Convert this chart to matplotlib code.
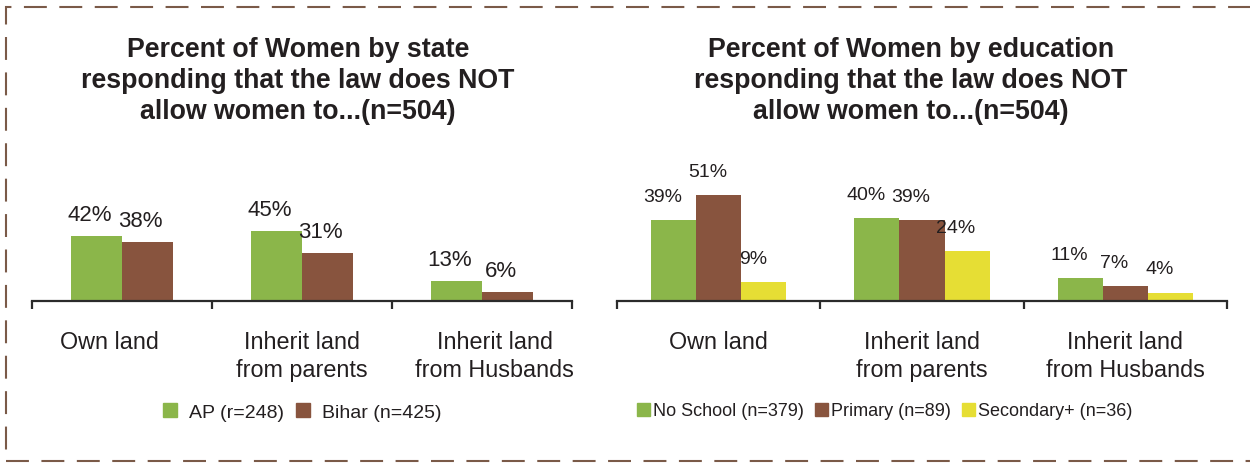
import matplotlib
matplotlib.use("Agg")
import numpy as np
import matplotlib.pyplot as plt
from matplotlib.patches import Rectangle, Patch

plt.rcParams['font.family'] = ['Liberation Sans', 'DejaVu Sans']

# data
categories = ["Own land", "Inherit land\nfrom parents", "Inherit land\nfrom Husbands"]

state_names = ["AP (r=248)", "Bihar (n=425)"]
state_ap = [42, 45, 13]
state_bihar = [38, 31, 6]

edu_names = ["No School (n=379)", "Primary (n=89)", "Secondary+ (n=36)"]
edu_none = [39, 40, 11]
edu_primary = [51, 39, 7]
edu_secondary = [9, 24, 4]

title_left = ["Percent of Women by state",
              "responding that the law does NOT",
              "allow women to...(n=504)"]
title_right = ["Percent of Women by education",
               "responding that the law does NOT",
               "allow women to...(n=504)"]

GREEN = "#8bb64a"
BROWN = "#88543e"
YELLOW = "#e6de34"
INK = "#231f20"
W, H = 1250, 464

fig = plt.figure(figsize=(12.5, 4.64), dpi=100)


def px(x, y, w, h):
    # pixel box (from top-left) -> figure fraction rect
    return [x / W, 1 - (y + h) / H, w / W, h / H]


def draw_panel(ax, series, colors, width, ymax, lab_size, lab_dx, lab_dy, spread=1.0):
    x = np.arange(len(categories))
    n = len(series)
    offs = (np.arange(n) - (n - 1) / 2) * width
    for vals, col, off in zip(series, colors, offs):
        bars = ax.bar(x + off, vals, width, color=col, linewidth=0)
        for b, v in zip(bars, vals):
            ax.annotate("%d%%" % v, (b.get_x() + b.get_width() / 2, v),
                        xytext=(lab_dx, lab_dy), textcoords="offset points",
                        ha="center", va="bottom", fontsize=lab_size, color=INK)
    ax.set_xlim(-0.5, len(categories) - 0.5)
    ax.set_ylim(0, ymax)
    for s in ["left", "right", "top"]:
        ax.spines[s].set_visible(False)
    ax.spines["bottom"].set_color("#2b2b2b")
    ax.spines["bottom"].set_linewidth(1.6)
    ax.set_yticks([])
    mid = (len(categories) - 1) / 2
    ax.set_xticks(mid + (x - mid) * spread)
    ax.set_xticklabels(categories, fontsize=16.8, color=INK, linespacing=1.25)
    ax.tick_params(axis="x", which="major", length=0, pad=21)
    ax.set_xticks(np.arange(len(categories) + 1) - 0.5, minor=True)
    ax.tick_params(axis="x", which="minor", length=6, width=1.6, color="#2b2b2b")


ax1 = fig.add_axes(px(32, 152, 540, 150))
draw_panel(ax1, [state_ap, state_bihar], [GREEN, BROWN], 0.283, 150 / 1.55,
           16, -5, 8, spread=1.07)

ax2 = fig.add_axes(px(617, 152, 610, 150))
draw_panel(ax2, [edu_none, edu_primary, edu_secondary], [GREEN, BROWN, YELLOW],
           0.222, 150 / 2.08, 14, -8, 11)

for lines, cx in [(title_left, 298), (title_right, 911)]:
    for i, t in enumerate(lines):
        fig.text(cx / W, 1 - (50 + 31 * i) / H, t, ha="center", va="center",
                 fontsize=19.3, fontweight="bold", color=INK)

h1 = [Patch(color=c) for c in [GREEN, BROWN]]
fig.legend(h1, state_names, loc="center", bbox_to_anchor=(302 / W, 1 - 413 / H),
           ncol=2, frameon=False, fontsize=14, handlelength=0.75, handleheight=0.75,
           handletextpad=0.6, columnspacing=0.6, labelcolor=INK)

h2 = [Patch(color=c) for c in [GREEN, BROWN, YELLOW]]
fig.legend(h2, edu_names, loc="center", bbox_to_anchor=(885 / W, 1 - 412 / H),
           ncol=3, frameon=False, fontsize=13, handlelength=0.7, handleheight=0.7,
           handletextpad=0.2, columnspacing=0.6, labelcolor=INK)

# dashed frame around both panels
frame = Rectangle((6 / W, 1 - 462 / H), 1260 / W, 454 / H, transform=fig.transFigure,
                  fill=False, edgecolor="#7a5a48", linewidth=1.5,
                  linestyle=(0, (11, 6)), clip_on=False)
fig.patches.append(frame)

fig.savefig("out.png", dpi=100)
